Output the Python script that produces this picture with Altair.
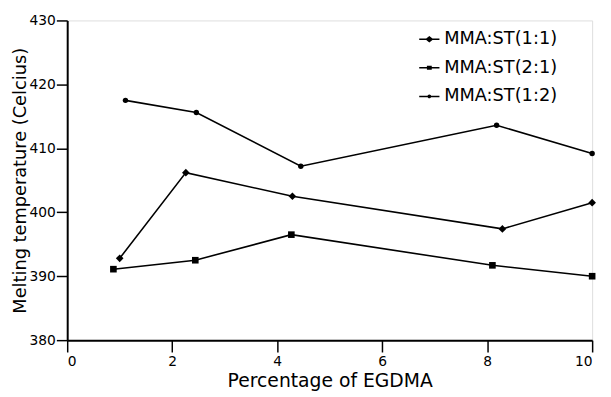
import altair as alt
import pandas as pd

series_names = ["MMA:ST(1:1)", "MMA:ST(2:1)", "MMA:ST(1:2)"]

x_11 = [1.0, 2.26, 4.29, 8.29, 10.0]
y_11 = [392.8, 406.2, 402.5, 397.4, 401.5]

x_21 = [0.88, 2.44, 4.27, 8.10, 10.0]
y_21 = [391.1, 392.5, 396.5, 391.7, 390.0]

x_12 = [1.11, 2.46, 4.45, 8.18, 10.0]
y_12 = [417.5, 415.6, 407.2, 413.6, 409.2]

x_ticks = [0, 2, 4, 6, 8, 10]
y_ticks = [380, 390, 400, 410, 420, 430]

rows = []
for name, xs, ys in zip(series_names, [x_11, x_21, x_12], [y_11, y_21, y_12]):
    for xv, yv in zip(xs, ys):
        rows.append({"series": name, "pct": xv, "temp": yv})
df = pd.DataFrame(rows)

FONT = "DejaVu Sans"

x_enc = alt.X("pct:Q", scale=alt.Scale(domain=[0, 10], nice=False),
              axis=alt.Axis(values=x_ticks, title="Percentage of EGDMA", grid=False,
                            tickSize=12, tickWidth=1.5, domainWidth=2, labelPadding=3,
                            titlePadding=3, labelFontSize=14, titleFontSize=19,
                            titleFontWeight="normal", labelColor="black",
                            titleColor="black", domainColor="black", tickColor="black",
                            labelFont=FONT, titleFont=FONT))
y_enc = alt.Y("temp:Q", scale=alt.Scale(domain=[380, 430], nice=False, zero=False),
              axis=alt.Axis(values=y_ticks, title="Melting temperature (Celcius)", grid=False,
                            tickSize=11, tickWidth=1.5, domainWidth=2, labelPadding=1,
                            titlePadding=0, labelFontSize=14, titleFontSize=18,
                            titleFontWeight="normal", labelColor="black",
                            titleColor="black", domainColor="black", tickColor="black",
                            labelFont=FONT, titleFont=FONT))

base = alt.Chart(df)

lines = base.mark_line(color="black", strokeWidth=1.6).encode(
    x=x_enc, y=y_enc, detail="series:N")

points = base.mark_point(filled=True, color="black", opacity=1).encode(
    x=x_enc, y=y_enc,
    shape=alt.Shape("series:N", scale=alt.Scale(domain=series_names,
                                                  range=["diamond", "square", "circle"]),
                    legend=None),
    size=alt.Size("series:N", scale=alt.Scale(domain=series_names, range=[60, 30, 18]),
                  legend=None),
)

BAR = "M-1,-0.075L1,-0.075L1,0.075L-1,0.075Z"
legend_paths = [
    BAR + "M-0.4,0L0,-0.32L0.4,0L0,0.32Z",
    BAR + "M-0.24,-0.2L0.24,-0.2L0.24,0.2L-0.24,0.2Z",
    BAR + "M-0.18,0A0.18,0.18,0,1,1,0.18,0A0.18,0.18,0,1,1,-0.18,0Z",
]

legend_layer = base.mark_point(filled=True, color="black", opacity=1, size=420).encode(
    shape=alt.Shape("series:N", scale=alt.Scale(domain=series_names, range=legend_paths),
                    legend=alt.Legend(title=None, orient="none", legendX=356, legendY=8,
                                      labelFontSize=18, labelFont=FONT, labelColor="black",
                                      symbolSize=420, symbolFillColor="black",
                                      symbolOpacity=1, rowPadding=9, labelOffset=4)),
).transform_filter("false")

chart = alt.layer(lines, points, legend_layer).resolve_scale(
    shape="independent", size="independent"
).resolve_legend(shape="independent").properties(
    width=532, height=324,
    autosize=alt.AutoSizeParams(type="none"),
    padding={"left": 60, "top": 10, "right": 11, "bottom": 55},
).configure_view(stroke="black", strokeWidth=1.5).configure(background="white")

chart.save("out.html", embed_options={"renderer": "svg", "actions": False})
